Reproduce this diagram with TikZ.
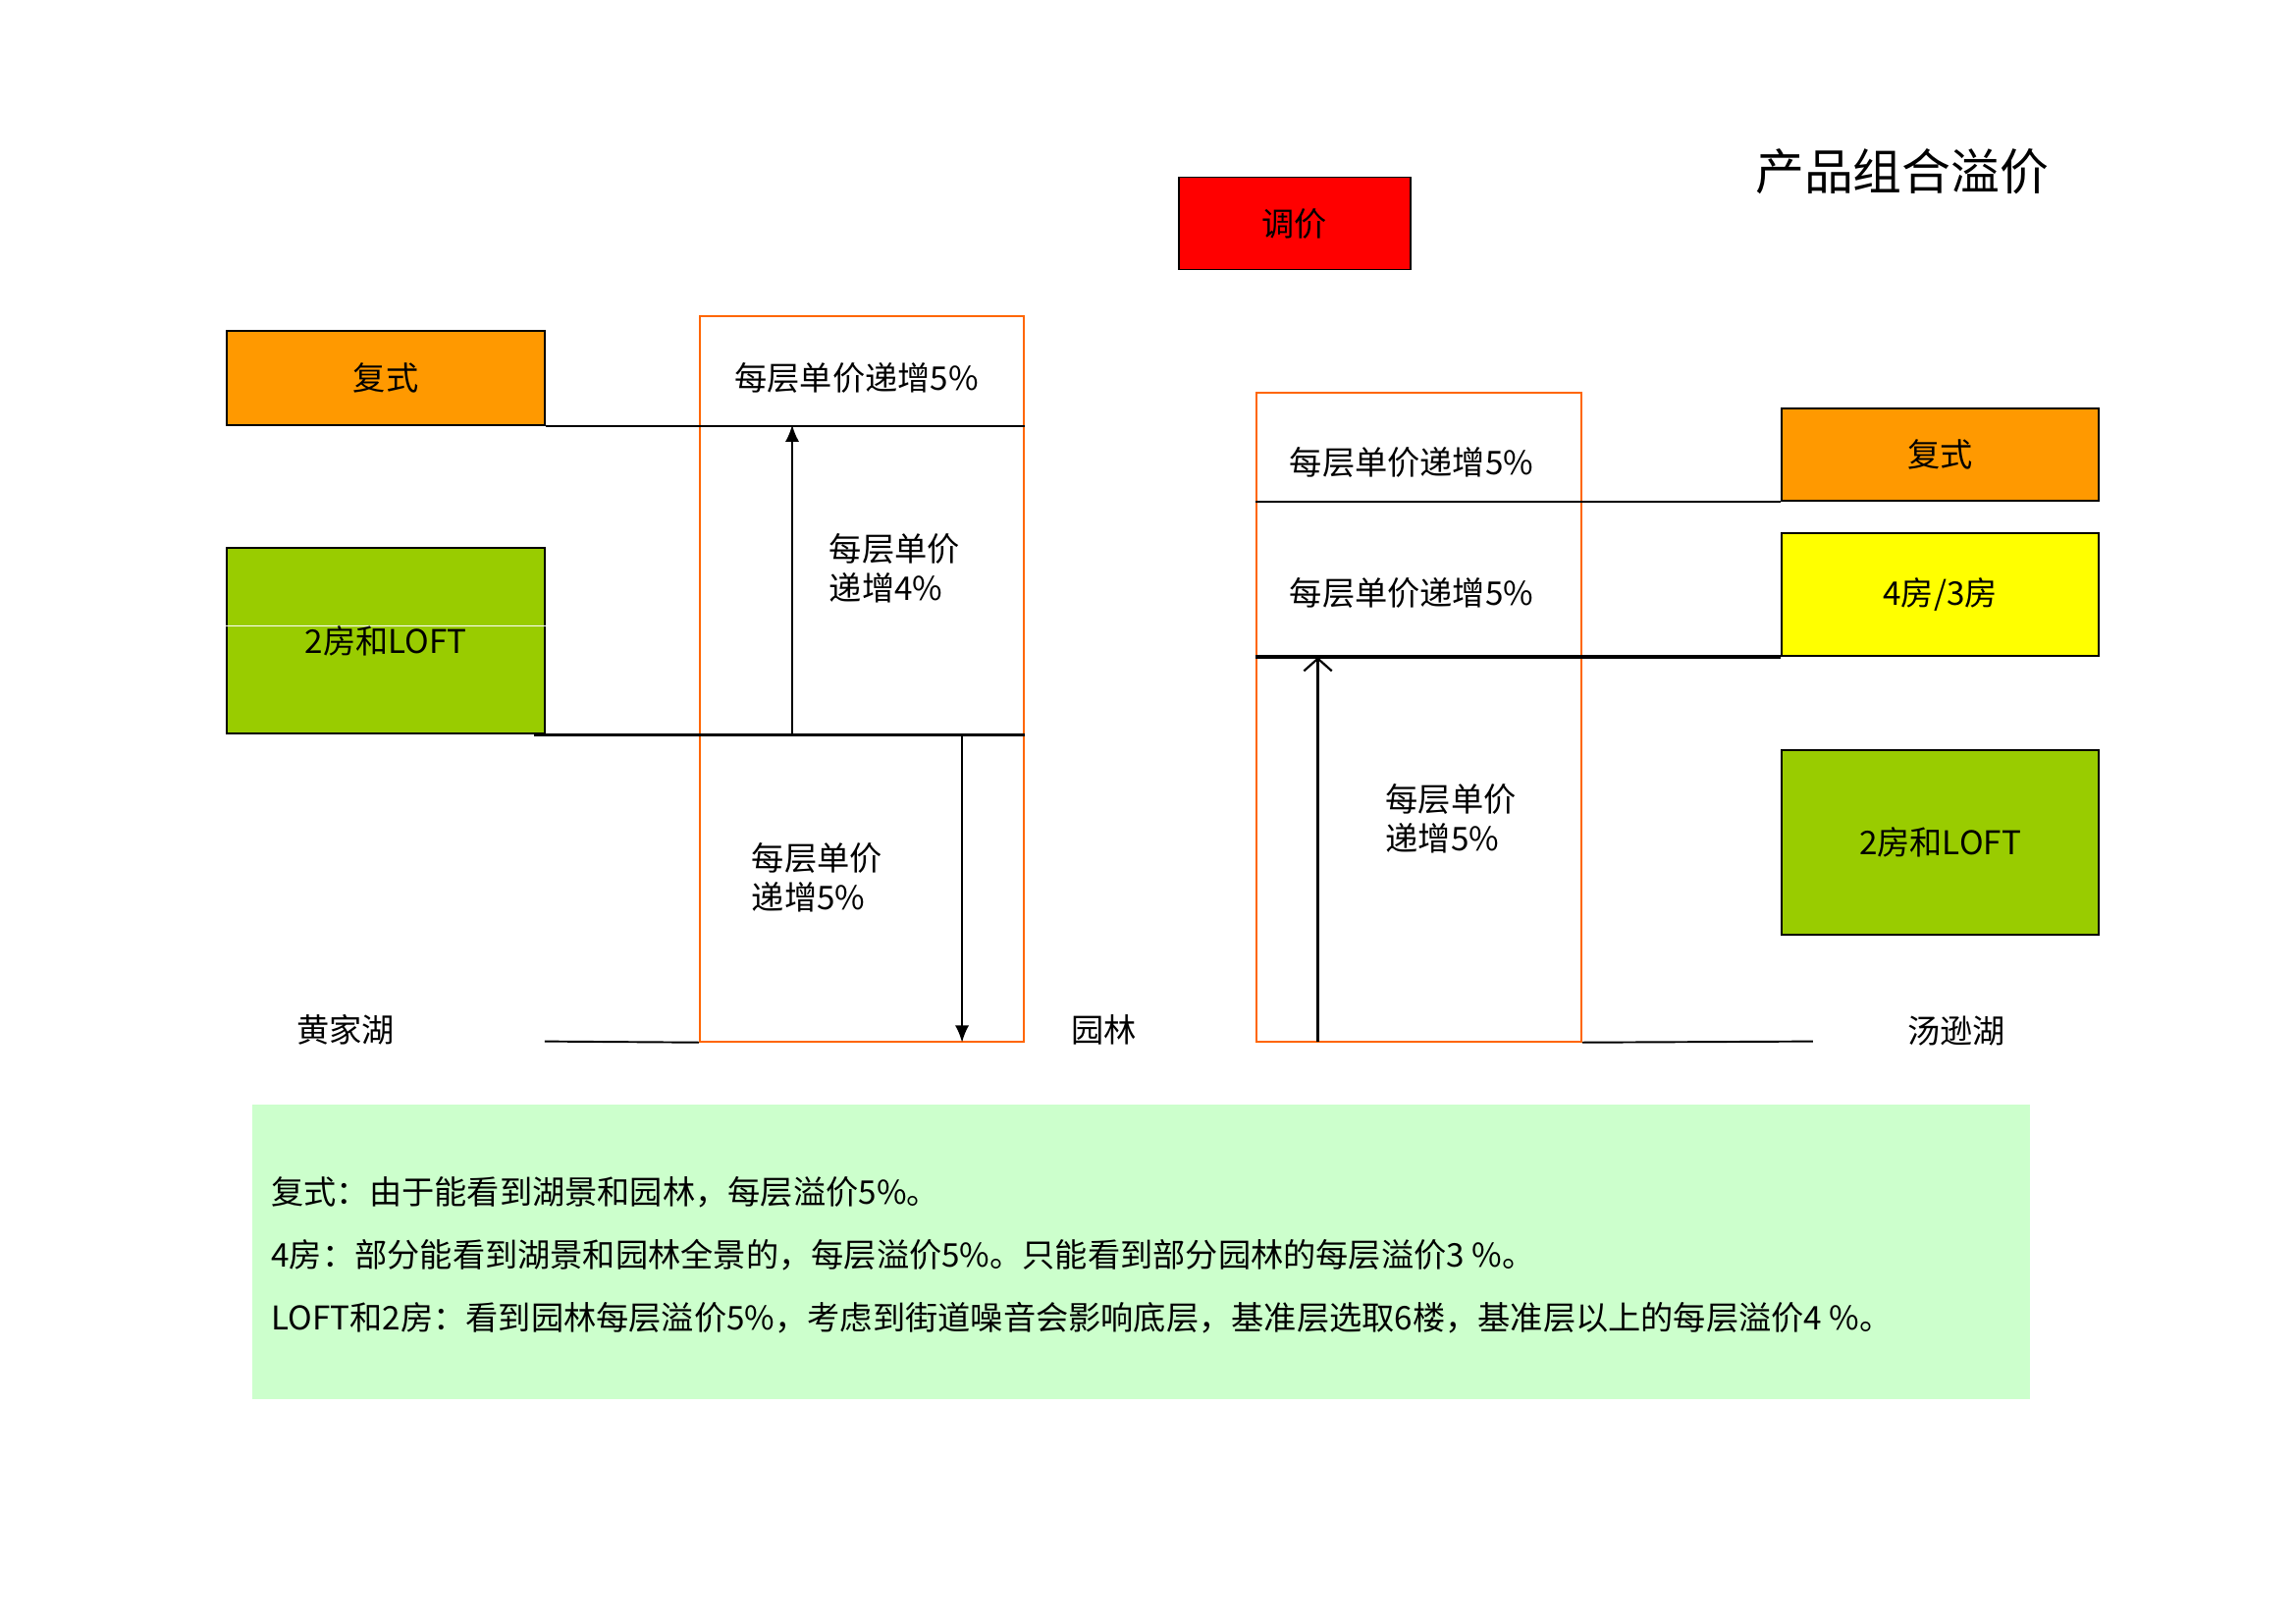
\documentclass[tikz,border=0pt]{standalone}
\usepackage{fontspec}
\setmainfont{Noto Sans CJK SC}
\usepackage{xcolor}
\usepackage{tikz}
\usetikzlibrary{positioning,arrows.meta,fit}

\definecolor{duplexorange}{HTML}{FF9900}
\definecolor{loftgreen}{HTML}{99CC00}
\definecolor{roomyellow}{HTML}{FFFF00}
\definecolor{adjustred}{HTML}{FF0000}
\definecolor{paneorange}{HTML}{FF6600}
\definecolor{notegreen}{HTML}{CCFFCC}

\begin{document}
\begin{tikzpicture}[
    x=0.018941cm, y=-0.018941cm,
    font=\fontsize{12pt}{14.5pt}\selectfont,
    block/.style={draw, line width=0.7pt, inner sep=0pt},
    pane/.style={draw=paneorange, line width=0.8pt, inner sep=0pt},
    floor/.style={line width=0.7pt},
    base/.style={line width=1.3pt},
    tag/.style={anchor=west, align=left, inner sep=0pt},
    arr/.style={-{Latex[length=2.2mm,width=1.8mm]}, line width=0.8pt},
    openarr/.style={-{Straight Barb[length=1.6mm,width=3.6mm]}, line width=0.8pt},
    note/.style={anchor=west, inner sep=0pt},
]
\useasboundingbox (0,0) rectangle (1568,1108);

% title and price tag
\node[font=\fontsize{18pt}{20pt}\selectfont] (title) at (1299,117) {产品组合溢价};
\node[block, fill=adjustred, fit={(805,121)(963,184)}, label=center:调价] (adjust) {};

% left side
\node[block, fill=duplexorange, fit={(155,226)(372,290)}, label=center:复式] (lduplex) {};
\node[block, fill=loftgreen, fit={(155,374)(372,501)}] (lloft) {};
\draw[white, line width=0.4pt] ([yshift=0.19cm]lloft.west) -- ([yshift=0.19cm]lloft.east);
\node (lloftname) at (lloft.center) {2房和LOFT};
\node[pane, fit={(478,216)(699,711)}] (lpane) {};
\coordinate (lbase) at (372,711);
\coordinate (lmid) at (541,501);
\coordinate (ltop) at (541,290);
\coordinate (ldown) at (657,501);

\draw[floor] (lduplex.south east) -- (lduplex.south east -| lpane.east);
\draw[base] ([xshift=-0.15cm]lloft.south east) -- (lloft.south east -| lpane.east);
\draw[floor] (lbase) -- (lpane.south west);
\draw[arr] (lmid) -- (ltop);
\draw[arr] (ldown) -- (ldown |- lpane.south);

\node (ltoptext) at (585,258) {每层单价递增5\%};
\node[tag] (lmidtext) at (566,388) {每层单价\\递增4\%};
\node[tag] (llowtext) at (513,599) {每层单价\\递增5\%};

% place names
\node (hjlake) at (236,703) {黄家湖};
\node (garden) at (754,703) {园林};
\node (tslake) at (1336,704) {汤逊湖};

% right side
\node[pane, fit={(858,268)(1080,711)}] (rpane) {};
\node[block, fill=duplexorange, fit={(1217,279)(1433,342)}, label=center:复式] (rduplex) {};
\node[block, fill=roomyellow, fit={(1217,364)(1433,448)}, label=center:4房/3房] (rroom) {};
\node[block, fill=loftgreen, fit={(1217,512)(1433,638)}, label=center:2房和LOFT] (rloft) {};
\coordinate (rbase) at (1238,711);
\coordinate (rfoot) at (900,711);

\draw[floor] (rpane.west |- rduplex.south) -- (rduplex.south west);
\draw[base] (rpane.west |- rroom.south) -- (rroom.south west);
\draw[floor] (rpane.south east) -- (rbase);
\draw[openarr] (rfoot) -- (rfoot |- rroom.south);

\node (rtoptext) at (964,316) {每层单价递增5\%};
\node (rmidtext) at (964,405) {每层单价递增5\%};
\node[tag] (rlowtext) at (946,559) {每层单价\\递增5\%};

% notes
\node[fill=notegreen, inner sep=0pt, fit={(172,754)(1386,955)}] (notes) {};
\node[note] (n1) at (185,814) {复式：由于能看到湖景和园林，每层溢价5\%。};
\node[note] (n2) at (185,857) {4房：部分能看到湖景和园林全景的，每层溢价5\%。只能看到部分园林的每层溢价3 \%。};
\node[note] (n3) at (185,900) {LOFT和2房：看到园林每层溢价5\%，考虑到街道噪音会影响底层，基准层选取6楼，基准层以上的每层溢价4 \%。};
\end{tikzpicture}
\end{document}
